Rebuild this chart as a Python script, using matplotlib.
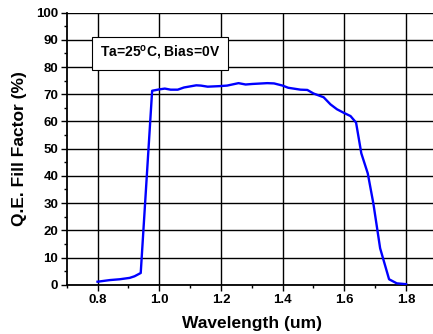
import matplotlib.pyplot as plt
from matplotlib.ticker import MultipleLocator

wavelength = [0.80, 0.84, 0.872, 0.904, 0.92, 0.94, 0.977, 1.00, 1.018, 1.037,
              1.06, 1.08, 1.12, 1.135, 1.157, 1.195, 1.22, 1.257, 1.28, 1.302,
              1.35, 1.372, 1.40, 1.418, 1.458, 1.48, 1.50, 1.533, 1.555, 1.576,
              1.598, 1.62, 1.638, 1.655, 1.676, 1.694, 1.716, 1.745, 1.77, 1.80]
fill_factor = [1.1, 1.7, 2.0, 2.5, 3.1, 4.3, 71.3, 71.8, 72.1, 71.7,
               71.7, 72.5, 73.3, 73.2, 72.8, 73.0, 73.2, 74.1, 73.6, 73.8,
               74.1, 74.0, 73.2, 72.4, 71.7, 71.6, 70.3, 68.9, 66.3, 64.5,
               63.2, 62.0, 59.6, 48.3, 40.9, 29.9, 13.4, 2.0, 0.5, 0.2]

plt.rcParams['font.family'] = 'Liberation Sans'
plt.rcParams['font.weight'] = 'bold'
plt.rcParams['axes.labelweight'] = 'bold'

fig = plt.figure(figsize=(4.33, 3.34), dpi=100)
ax = fig.add_axes([0.154, 0.1476, 0.855, 0.8144])

ax.plot(wavelength, fill_factor, color='#0000ff', linewidth=1.7, zorder=3)

ax.set_xlim(0.7, 1.9)
ax.set_ylim(0, 100)
ax.xaxis.set_minor_locator(MultipleLocator(0.1))
ax.yaxis.set_major_locator(MultipleLocator(10))
ax.yaxis.set_minor_locator(MultipleLocator(5))
ax.set_xticks([0.8, 1.0, 1.2, 1.4, 1.6, 1.8])
ax.set_xticklabels(['0.8', '1.0', '1.2', '1.4', '1.6', '1.8'])

ax.grid(True, which='major', color='black', linewidth=1.0)
ax.tick_params(which='major', direction='out', length=4, width=1, labelsize=9.5, pad=2)
ax.tick_params(axis='x', which='major', pad=3)
ax.tick_params(which='minor', direction='out', length=2.5, width=1)

for s in ['top', 'right']:
    ax.spines[s].set_visible(False)
for s in ['left', 'bottom']:
    ax.spines[s].set_linewidth(1.3)

ax.set_xlabel('Wavelength (um)', fontsize=12.5, labelpad=7)
ax.set_ylabel('Q.E. Fill Factor (%)', fontsize=12.5, labelpad=7)

ax.text(0.808, 85, r'Ta=25$^\mathregular{o}$C, Bias=0V', fontsize=10,
        va='center', ha='left', zorder=4,
        bbox=dict(boxstyle='square,pad=0.55', facecolor='white', edgecolor='black', linewidth=0.8))

plt.savefig('out.png', dpi=100)
